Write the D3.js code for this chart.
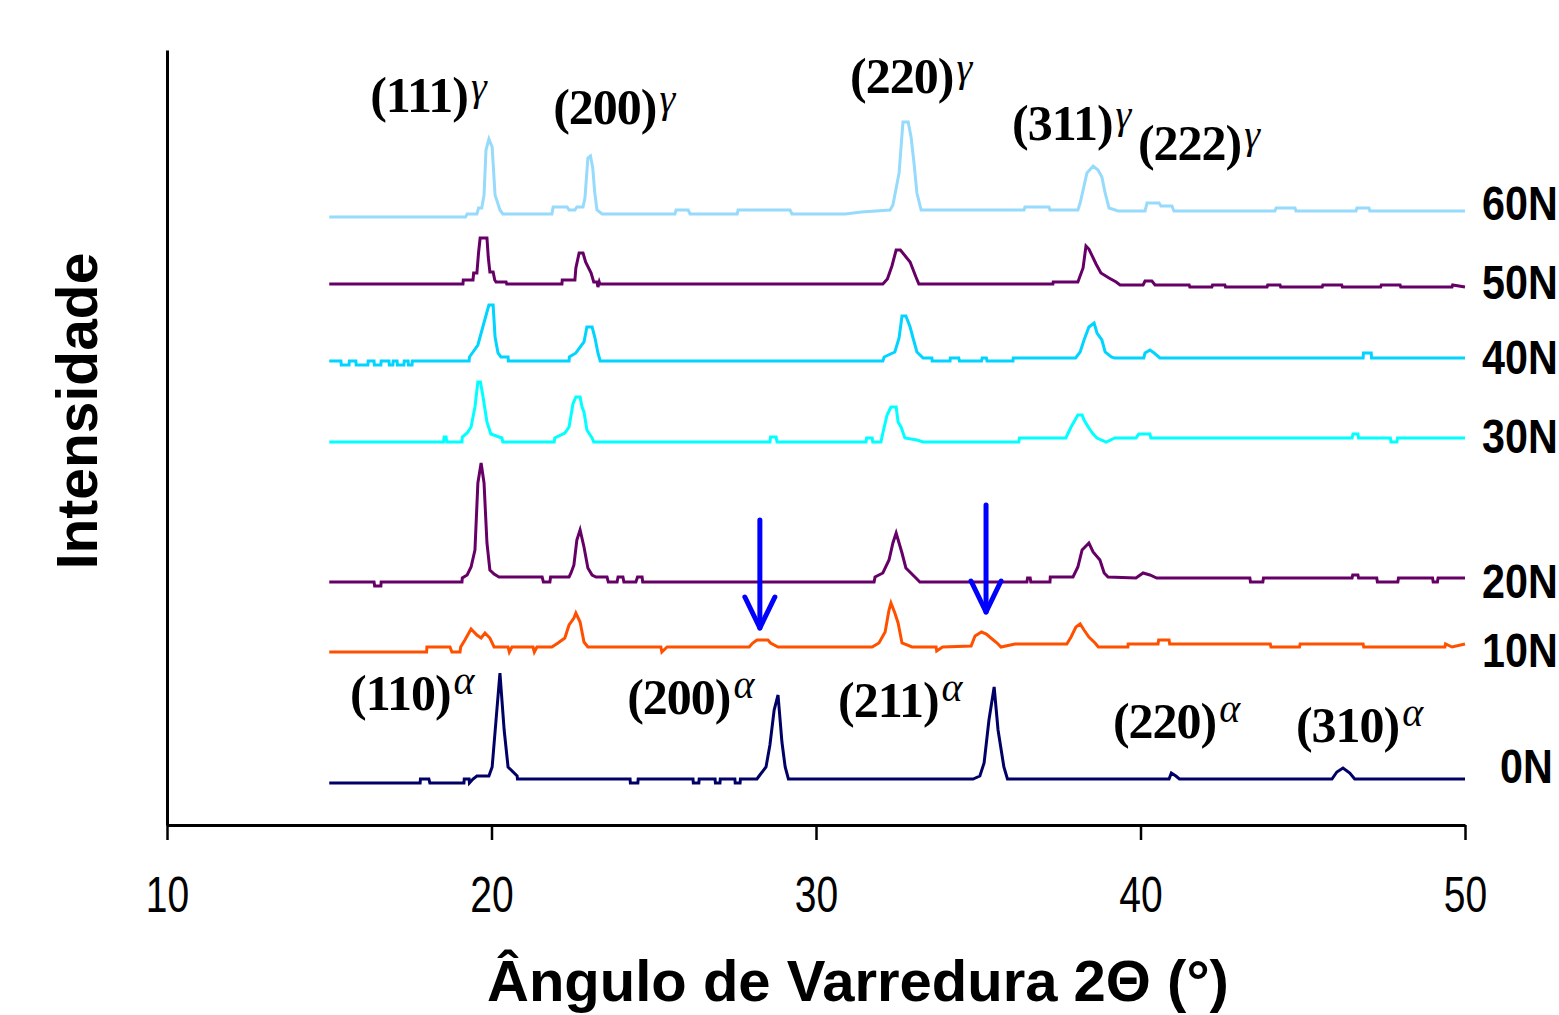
<!DOCTYPE html>
<html>
<head>
<meta charset="utf-8">
<script src="https://cdn.jsdelivr.net/npm/d3@7"></script>
<style>
  body { margin: 0; background: #fff; }
  svg { display: block; }
</style>
</head>
<body>
<div id="svg-container"></div>
<script>
const width = 1559;
const height = 1015;

// ********* DATA (2theta in degrees, intensity in a.u. above each trace's baseline) *********
const seriesNames = ["60N", "50N", "40N", "30N", "20N", "10N", "0N"];
const seriesOffsets = [613, 541, 467, 385, 244, 175, 44];
const xTicks = [10, 20, 30, 40, 50];

const xrd60N = [[15,-5],[19.2,-5],[19.25,-2],[19.55,-2],[19.6,4],[19.7,4],[19.77,17],[19.83,62],[19.92,73],[20.02,65],[20.11,17],[20.26,2],[20.35,-2],
  [21.86,-2],[21.9,5],[22.33,5],[22.39,2],[22.57,2],[22.63,5],[22.82,5],[22.88,14],[22.97,54],[23.05,56],[23.12,44],[23.18,20],[23.25,2],[23.41,-2],
  [25.65,-2],[25.69,2],[26.06,2],[26.12,-2],[27.57,-2],[27.6,2],[29.2,2],[29.26,-2],[30.9,-2],[31.4,0],[32.28,2],[32.37,7],[32.56,39],[32.68,90],
  [32.84,90],[32.93,75],[33.02,49],[33.11,19],[33.24,2],[36.41,2],[36.44,5],[37.18,5],[37.21,2],[38.07,2],[38.14,9],[38.35,39],[38.54,46],
  [38.69,42],[38.81,35],[38.91,19],[39.03,4],[39.31,1],[40.14,1],[40.2,9],[40.57,9],[40.63,6],[40.97,6],[41.03,1],[44.14,1],[44.18,4],
  [44.76,4],[44.79,1],[46.64,1],[46.67,4],[47.04,4],[47.07,1],[50,1]];

const xrd50N = [[15,0],[19.12,0],[19.13,4],[19.43,4],[19.45,11],[19.55,11],[19.6,31],[19.65,46],[19.86,46],[19.9,27],[19.95,12],[20.05,12],
  [20.1,4],[20.14,2],[20.45,2],[20.47,0],[22.17,0],[22.18,4],[22.57,4],[22.6,16],[22.7,31],[22.82,31],[22.9,22],[23.07,11],[23.15,2],[23.25,2],
  [23.28,-3],[23.32,2],[23.34,0],[32.06,0],[32.2,5],[32.34,18],[32.47,34],[32.6,34],[32.9,22],[33.08,7],[33.17,0],[37.3,0],[37.31,2],[38.07,2],
  [38.23,16],[38.32,38],[38.41,35],[38.63,20],[38.78,11],[39.03,6],[39.25,2],[39.37,-1],[40.08,-1],[40.14,3],[40.35,3],[40.45,-1],[41.5,-1],
  [41.52,-3],[42.2,-3],[42.22,-1],[42.6,-1],[42.62,-3],[43.9,-3],[43.92,-1],[44.3,-1],[44.32,-3],[45.6,-3],[45.62,-1],[46.2,-1],[46.22,-3],
  [47.4,-3],[47.42,-1],[48.0,-1],[48.02,-3],[49.6,-3],[49.62,-1],[50,-3]];

const xrd40N = [[15,-3],[15.36,-3],[15.37,-7],[15.61,-7],[15.62,-3],[15.82,-3],[15.83,-7],[16.19,-7],[16.2,-3],[16.38,-3],[16.39,-7],[16.59,-7],
  [16.6,-3],[16.84,-3],[16.85,-7],[16.96,-7],[16.97,-3],[17.09,-3],[17.1,-7],[17.3,-7],[17.31,-3],[17.43,-3],[17.44,-7],[17.55,-7],[17.56,-3],
  [19.31,-3],[19.32,1],[19.43,6],[19.58,13],[19.8,39],[19.92,53],[20.05,53],[20.11,21],[20.2,5],[20.29,1],[20.51,1],[20.52,-3],[22.39,-3],
  [22.4,1],[22.6,5],[22.85,16],[22.94,31],[23.1,31],[23.19,20],[23.28,5],[23.35,-3],[32.06,-3],[32.1,1],[32.43,6],[32.56,20],[32.65,42],
  [32.77,42],[32.9,31],[32.99,20],[33.11,6],[33.3,0],[33.57,0],[33.58,-3],[34.13,-3],[34.14,0],[34.4,0],[34.42,-3],[35.1,-3],[35.12,0],
  [35.25,0],[35.27,-3],[36.07,-3],[36.08,0],[38.0,0],[38.14,6],[38.26,18],[38.41,31],[38.57,35],[38.66,25],[38.81,18],[38.91,6],[39.1,1],
  [39.2,0],[40.1,0],[40.14,5],[40.29,8],[40.42,5],[40.6,0],[46.86,0],[46.87,5],[47.11,5],[47.12,0],[50,0]];

const xrd30N = [[15,-2],[18.52,-2],[18.54,3],[18.6,3],[18.62,-2],[19.09,-2],[19.1,3],[19.25,7],[19.37,13],[19.49,33],[19.58,58],[19.66,58],
  [19.74,43],[19.86,18],[19.98,6],[20.32,2],[20.35,-2],[21.93,-2],[21.95,2],[22.26,7],[22.39,13],[22.51,36],[22.6,43],[22.73,43],[22.79,33],
  [22.85,28],[22.94,10],[23.1,2],[23.15,-2],[28.58,-2],[28.6,3],[28.77,3],[28.8,-2],[31.54,-2],[31.56,2],[31.73,2],[31.75,-2],[32.0,-2],
  [32.06,7],[32.19,25],[32.31,33],[32.47,33],[32.53,18],[32.62,13],[32.74,2],[33.11,0],[33.3,-2],[36.25,-2],[36.27,2],[37.7,2],[37.86,13],
  [38.07,25],[38.2,25],[38.26,20],[38.41,12],[38.54,6],[38.66,2],[38.94,-2],[39.21,2],[39.86,2],[39.95,6],[40.29,6],[40.32,2],[46.52,2],
  [46.55,6],[46.7,6],[46.72,2],[47.7,2],[47.72,-2],[47.9,-2],[47.92,2],[50,2]];

const xrd20N = [[15,-1],[16.38,-1],[16.4,-5],[16.59,-5],[16.6,-1],[19.09,-1],[19.1,3],[19.25,6],[19.37,14],[19.49,31],[19.58,98],[19.68,118],
  [19.77,98],[19.86,38],[19.95,11],[20.08,7],[20.23,4],[21.56,4],[21.6,-1],[21.8,-1],[21.82,4],[22.39,4],[22.45,8],[22.54,16],[22.63,41],
  [22.73,51],[22.85,34],[22.97,13],[23.1,6],[23.22,4],[23.56,4],[23.6,-1],[23.87,-1],[23.9,4],[24.05,4],[24.08,-1],[24.45,-1],[24.5,4],
  [24.64,4],[24.66,-1],[31.79,-1],[31.82,4],[32.06,8],[32.25,21],[32.37,38],[32.47,48],[32.56,38],[32.65,28],[32.77,13],[33.11,2],[33.2,-1],
  [36.5,-1],[36.52,3],[36.6,3],[36.62,-1],[37.21,-1],[37.22,4],[37.92,4],[38.07,14],[38.2,31],[38.41,38],[38.54,29],[38.75,21],[38.88,8],
  [39.0,4],[39.86,3],[40.08,8],[40.29,6],[40.5,3],[43.37,3],[43.39,-1],[43.77,-1],[43.79,3],[46.52,3],[46.54,6],[46.7,6],[46.72,3],
  [47.28,3],[47.3,-1],[47.93,-1],[47.95,3],[49.0,3],[49.02,-1],[49.15,-1],[49.17,3],[50,3]];

const xrd10N = [[15,-2],[18.0,-2],[18.01,3],[18.72,3],[18.78,-2],[19.03,-2],[19.05,3],[19.18,10],[19.37,21],[19.55,15],[19.68,12],[19.8,17],
  [19.95,12],[20.08,3],[20.51,3],[20.55,-2],[20.63,3],[21.28,3],[21.32,-2],[21.4,3],[21.86,3],[22.05,7],[22.26,12],[22.39,25],[22.54,32],
  [22.6,37],[22.73,28],[22.85,8],[22.97,3],[25.22,3],[25.25,-2],[25.41,3],[27.94,3],[28.05,7],[28.18,10],[28.52,10],[28.6,7],[28.83,3],
  [31.73,3],[31.94,7],[32.13,18],[32.25,40],[32.31,47],[32.43,37],[32.53,27],[32.65,7],[32.96,3],[33.7,3],[33.72,-1],[33.9,3],[34.78,4],
  [34.9,14],[35.1,18],[35.25,16],[35.39,12],[35.58,7],[35.7,3],[36.13,6],[37.73,6],[37.86,13],[38.01,23],[38.14,26],[38.26,20],[38.41,13],[38.6,7],
  [38.7,3],[39.61,3],[39.62,6],[40.54,6],[40.56,10],[40.88,10],[40.9,6],[44.0,6],[44.02,3],[44.9,3],[44.92,6],[46.86,6],[46.88,3],
  [49.38,3],[49.4,6],[49.6,3],[50,6]];

const xrd0N = [[15,-2],[17.8,-2],[17.81,2],[18.07,2],[18.1,-2],[19.15,-2],[19.16,2],[19.31,2],[19.32,-2],[19.43,2],[19.55,5],[19.92,5],
  [20.02,14],[20.14,61],[20.26,108],[20.39,51],[20.51,14],[20.79,5],[20.8,2],[24.27,2],[24.28,-2],[24.51,-2],[24.52,2],[26.21,2],[26.22,-2],
  [26.39,-2],[26.4,2],[26.89,2],[26.9,-2],[27.04,-2],[27.05,2],[27.5,2],[27.51,-2],[27.66,-2],[27.67,2],[28.18,2],[28.27,6],[28.46,14],
  [28.58,36],[28.71,71],[28.83,86],[28.95,39],[29.05,14],[29.15,2],[34.84,2],[35.05,5],[35.18,18],[35.33,61],[35.49,94],[35.61,51],
  [35.79,14],[35.9,2],[40.88,2],[40.95,8],[41.09,5],[41.2,2],[45.9,2],[46.05,9],[46.24,13],[46.45,8],[46.6,2],[50,2]];

const seriesData = [xrd60N, xrd50N, xrd40N, xrd30N, xrd20N, xrd10N, xrd0N];

// reflections: text start (2theta) and text baseline (same intensity units)
const peaksGamma = [["(111)", 16.26, 713], ["(200)", 21.9, 701], ["(220)", 31.05, 732], ["(311)", 36.04, 685], ["(222)", 39.92, 665]];
const peaksAlpha = [["(110)", 15.64, 115], ["(200)", 24.18, 111], ["(211)", 30.68, 108], ["(220)", 39.15, 87], ["(310)", 44.79, 83]];

// arrows on the 10N trace: 2theta, tail, tip
const arrows = [[28.27, 130, 22], [35.24, 145, 38]];

// ********* STYLE / LAYOUT *********
const colors = ["#96dafc", "#660066", "#00d4ff", "#00ffff", "#660066", "#ff5000", "#000066"];
const labelDy = [8, 15, 16, 13, 17, 17, 2];
const labelDx = [0, 0, 0, 0, 0, 0, 18];

// ********* Create SVG *********
var svg = d3.select("#svg-container").append("svg")
  .attr("width", width)
  .attr("height", height)
  .style("background", "#fff");

// ******** SCALES **********
var x_scale = d3.scaleLinear()
  .domain([10, 50])
  .range([167, 1465]);

var y_scale = d3.scaleLinear()
  .domain([0, 775])
  .range([825, 50]);

// ******** AXES **********
var x_axis = svg.append("g")
  .attr("transform", `translate(0, ${y_scale(0)})`)
  .call(d3.axisBottom(x_scale).tickValues(xTicks).tickSize(15).tickSizeOuter(0).tickFormat(d3.format("d")));
x_axis.select(".domain").attr("stroke", "#000").attr("stroke-width", 3);
x_axis.selectAll(".tick line").attr("stroke", "#000").attr("stroke-width", 2.5);
x_axis.selectAll(".tick text")
  .attr("y", 87)
  .attr("dy", 0)
  .attr("transform", "scale(0.78,1)")
  .style("font-family", "Liberation Sans, Arial, sans-serif")
  .style("font-size", "50px")
  .style("fill", "#000");

var y_axis = svg.append("g")
  .attr("transform", `translate(${x_scale(10)}, 0)`)
  .call(d3.axisLeft(y_scale).tickValues([]).tickSizeOuter(0));
y_axis.select(".domain").attr("stroke", "#000").attr("stroke-width", 3);

// ******** TRACES **********
var traces = svg.append("g").attr("class", "traces");
seriesData.forEach(function(data, i){
  var line = d3.line()
    .x(function(d){ return x_scale(d[0]); })
    .y(function(d){ return y_scale(seriesOffsets[i] + d[1]); });
  traces.append("path")
    .datum(data)
    .attr("d", line)
    .attr("fill", "none")
    .attr("stroke", colors[i])
    .attr("stroke-width", 3)
    .attr("stroke-linejoin", "miter");
});

// ******** SERIES LABELS **********
// condensed so that the right edge of "N" stays inside the picture
svg.append("g").selectAll("text")
  .data(seriesNames)
  .enter().append("text")
  .attr("transform", function(d, i){
    return `translate(${x_scale(50) + 17 + labelDx[i]}, ${y_scale(seriesOffsets[i]) + labelDy[i]}) scale(0.86,1)`;
  })
  .text(function(d){ return d; })
  .style("font-family", "Liberation Sans, Arial, sans-serif")
  .style("font-weight", "bold")
  .style("font-size", "48px");

// ******** PEAK LABELS **********
function drawPeaks(list, greek, dy){
  var t = svg.append("g").selectAll("text")
    .data(list)
    .enter().append("text")
    .attr("x", function(d){ return x_scale(d[1]); })
    .attr("y", function(d){ return y_scale(d[2]); })
    .style("font-family", "Liberation Serif, Times New Roman, serif");
  t.append("tspan")
    .text(function(d){ return d[0]; })
    .style("font-weight", "bold")
    .style("font-size", "50px")
    .style("letter-spacing", "-1px");
  t.append("tspan")
    .attr("dx", 3)
    .attr("dy", dy)
    .text(greek)
    .style("font-style", "italic")
    .style("font-size", "40px");
}
drawPeaks(peaksGamma, "\u03b3", -12);
drawPeaks(peaksAlpha, "\u03b1", -16);

// ******** ARROWS **********
var off10 = seriesOffsets[5];
var arrowG = svg.append("g")
  .attr("stroke", "#0000ff")
  .attr("stroke-width", 5)
  .attr("stroke-linecap", "round")
  .attr("stroke-linejoin", "round")
  .attr("fill", "none");
arrows.forEach(function(a){
  var ax = x_scale(a[0]);
  var tipY = y_scale(off10 + a[2]);
  arrowG.append("line")
    .attr("x1", ax).attr("x2", ax)
    .attr("y1", y_scale(off10 + a[1])).attr("y2", tipY);
  arrowG.append("path")
    .attr("d", `M${ax - 15},${tipY - 31} L${ax},${tipY} L${ax + 15},${tipY - 31}`);
});

// ******** AXIS TITLES **********
svg.append("text")
  .attr("transform", "translate(97, 411) rotate(-90)")
  .attr("text-anchor", "middle")
  .text("Intensidade")
  .style("font-family", "Liberation Sans, Arial, sans-serif")
  .style("font-weight", "bold")
  .style("font-size", "57px");

svg.append("text")
  .attr("x", 858)
  .attr("y", 1001)
  .attr("text-anchor", "middle")
  .text("\u00c2ngulo de Varredura 2\u0398 (\u00b0)")
  .style("font-family", "Liberation Sans, Arial, sans-serif")
  .style("font-weight", "bold")
  .style("font-size", "58px");
</script>
</body>
</html>
